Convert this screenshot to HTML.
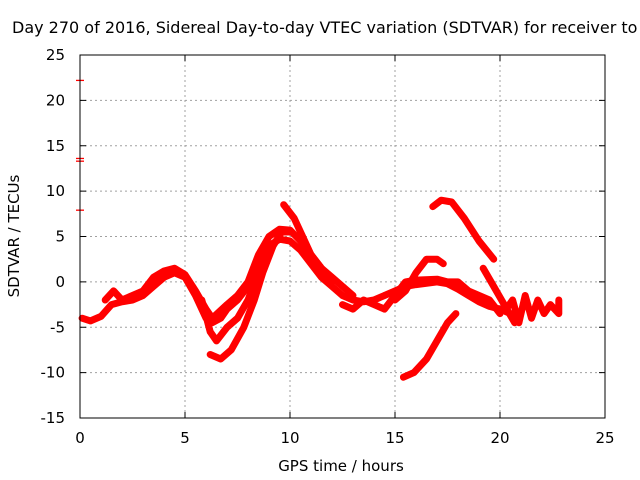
<!DOCTYPE html>
<html><head><meta charset="utf-8"><style>
html,body{margin:0;padding:0;background:#fff;}
svg{display:block;font-family:"DejaVu Sans","Liberation Sans",sans-serif;}
</style></head><body>
<svg id="chart" width="640" height="480" xmlns="http://www.w3.org/2000/svg">
<rect width="640" height="480" fill="#fff"/>
<text x="12" y="33" font-size="16" fill="#000">Day 270 of 2016, Sidereal Day-to-day VTEC variation (SDTVAR) for receiver to</text>
<g id="grid"></g>
<g id="axes"></g>
<g id="series"></g>
<rect x="80" y="55" width="525" height="363" fill="none" stroke="#000" stroke-width="1"/>
<text x="341" y="471" font-size="15" text-anchor="middle">GPS time / hours</text>
<text transform="translate(19,236) rotate(-90)" font-size="15" text-anchor="middle">SDTVAR / TECUs</text>
</svg>
<script>
const xTicks = [0,5,10,15,20,25];
const yTicks = [-15,-10,-5,0,5,10,15,20,25];
const redMarks = [22.2,13.6,13.3,7.9];
const s1 = [[0.1,-4],[0.5,-4.3],[1,-3.8],[1.5,-2.5],[2,-2.2],[2.5,-2],[3,-1.5],[3.5,-0.5],[4,0.5],[4.5,1],[5,0.5],[5.5,-1.5],[6,-4],[6.3,-4.5],[6.7,-4],[7,-3],[7.5,-2],[8,-0.5],[8.5,2],[9,4],[9.5,4.7],[10,4.5],[10.5,3.5],[11,2],[11.5,0.5],[12,-0.5],[12.5,-1.5],[13,-2],[13.5,-2.2],[14,-2],[14.5,-1.5],[15,-1],[15.5,-0.5],[16,-0.3],[17,0],[17.5,-0.2],[18,-0.8],[18.5,-1.5],[19,-2.2],[19.5,-2.7],[20,-3],[20.5,-3.5]];
const s2 = [[1.2,-2],[1.6,-1],[2,-2],[3,-1],[3.5,0.5],[4,1.2],[4.5,1.5],[5,0.8],[5.5,-1],[6,-3],[6.3,-4],[7,-2.5],[7.5,-1.5],[8,0],[8.5,3],[9,5],[9.5,5.8],[10,5.7],[10.5,4.5],[11,3],[11.5,1.5],[12,0.5],[12.5,-0.5],[13,-1.5]];
const s3 = [[5.8,-2],[6.2,-5.5],[6.5,-6.5],[7,-5],[7.5,-4],[8,-2],[8.5,1],[9,3.5]];
const s4 = [[6.2,-8],[6.7,-8.5],[7.2,-7.5],[7.8,-5],[8.3,-2],[8.7,1],[9.2,4],[9.6,5.5],[10,5.5]];
const s5 = [[9.7,8.5],[10.2,7],[10.6,5],[11,3],[11.5,1.5],[12,0]];
const s6 = [[15,-2],[15.5,-1],[16,1],[16.5,2.5],[17,2.5],[17.3,2]];
const s7 = [[16.8,8.3],[17.2,9],[17.7,8.8],[18.3,7],[19,4.5],[19.7,2.5]];
const s8 = [[15.4,-10.5],[15.9,-10],[16.5,-8.5],[17,-6.5],[17.5,-4.5],[17.9,-3.5]];
const s9 = [[19.2,1.5],[19.7,-0.5],[20.2,-2.5],[20.7,-4.5]];
const s10 = [[20.3,-3],[20.6,-2],[20.9,-4.5],[21.2,-1.5],[21.5,-4],[21.8,-2],[22.1,-3.5],[22.4,-2.5],[22.8,-3.5],[22.8,-2]];
const s11 = [[12.5,-2.5],[13,-3],[13.5,-2],[14,-2.5],[14.5,-3],[15,-1.5],[15.5,0],[16,0.2],[17,0.3],[17.5,0],[18,0],[18.5,-1],[19,-1.5],[19.5,-2],[20,-3.5]];
const allSeries = [s1,s2,s3,s4,s5,s6,s7,s8,s9,s10,s11];

const NS='http://www.w3.org/2000/svg';
const X0=80,X1=605,Y0=418,Y1=55,XMIN=0,XMAX=25,YMIN=-15,YMAX=25;
function px(x){return X0+(x-XMIN)/(XMAX-XMIN)*(X1-X0);}
function py(y){return Y0-(y-YMIN)/(YMAX-YMIN)*(Y0-Y1);}
function mk(tag,attrs,parent){const e=document.createElementNS(NS,tag);for(const k in attrs)e.setAttribute(k,attrs[k]);parent.appendChild(e);return e;}
const grid=document.getElementById('grid'),axes=document.getElementById('axes'),ser=document.getElementById('series');
xTicks.forEach(t=>{
  const x=px(t);
  if(t>XMIN&&t<XMAX){const g=mk('line',{x1:x,x2:x,y1:Y1,y2:Y0,stroke:'#a0a0a0','stroke-dasharray':'2,3'},grid);
  
  }
  mk('line',{x1:x,x2:x,y1:Y0,y2:Y0-6,stroke:'#000'},axes);
  mk('line',{x1:x,x2:x,y1:Y1,y2:Y1+6,stroke:'#000'},axes);
  const l=mk('text',{x:x,y:443,'font-size':15,'text-anchor':'middle'},axes);l.textContent=t;
  
  
});
yTicks.forEach(t=>{
  const y=py(t);
  if(t>YMIN&&t<YMAX){const g=mk('line',{x1:X0,x2:X1,y1:y,y2:y,stroke:'#a0a0a0','stroke-dasharray':'2,3'},grid);
  
  }
  mk('line',{x1:X0,x2:X0+6,y1:y,y2:y,stroke:'#000'},axes);
  mk('line',{x1:X1,x2:X1-6,y1:y,y2:y,stroke:'#000'},axes);
  const l=mk('text',{x:65,y:y+5,'font-size':15,'text-anchor':'end'},axes);l.textContent=t;
  
  
});
redMarks.forEach(v=>{
  const m=mk('line',{x1:76,x2:84,y1:py(v),y2:py(v),stroke:'#f00','stroke-width':1.3},ser);
  
  
});
allSeries.forEach((s,i)=>{
  const pts=s.map(p=>px(p[0]).toFixed(1)+','+py(p[1]).toFixed(1)).join(' ');
  const pl=mk('polyline',{points:pts,fill:'none',stroke:'#f00','stroke-width':7,'stroke-linejoin':'round','stroke-linecap':'round'},ser);
  
  
});
</script>
</body></html>
